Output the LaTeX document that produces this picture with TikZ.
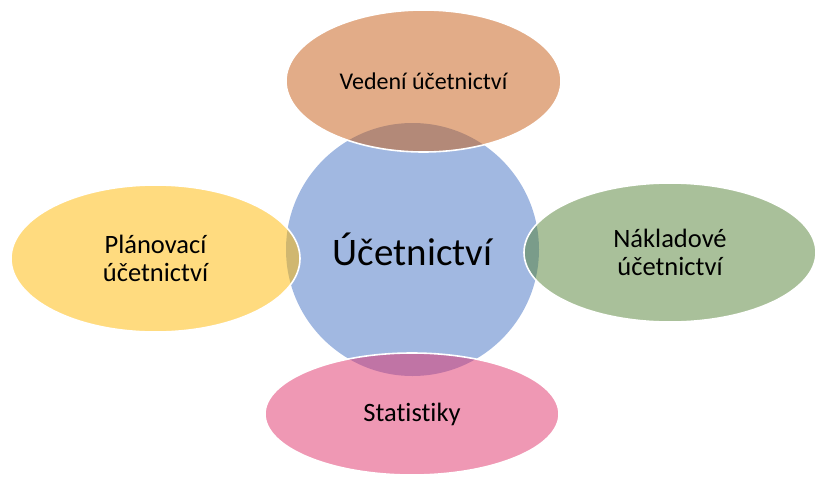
\documentclass[tikz,border=0pt]{standalone}
\usepackage{fontspec}
\setmainfont{Carlito}[Ligatures=NoCommon]
\usetikzlibrary{shapes.geometric}
\definecolor{cblue}{HTML}{4472C4}
\definecolor{corange}{HTML}{C55A11}
\definecolor{cyellow}{HTML}{FFB800}
\definecolor{cgreen}{HTML}{548235}
\definecolor{cpink}{HTML}{DF3169}
\begin{document}
\begin{tikzpicture}[x=1pt,y=-1pt,
  blob/.style={ellipse, inner sep=0pt, fill opacity=0.5, text opacity=1, align=center, text=black},
  outer/.style={blob, draw=white, line width=1.6pt, draw opacity=1, font=\fontsize{26.5}{28.5}\selectfont}]
\useasboundingbox (0,0) rectangle (815,477);
\node[blob, fill=cblue, minimum width=253pt, minimum height=253pt, font=\fontsize{39}{44}\selectfont] (c) at (412.5,249.5) {Účetnictví};
\node[outer, fill=corange, minimum width=275pt, minimum height=142pt, font=\fontsize{24}{28}\selectfont] (t) at (423.5,81) {Vedení účetnictví};
\node[outer, fill=cyellow, minimum width=289pt, minimum height=147pt] (l) at (155.5,258.5) {Plánovací\\účetnictví};
\node[outer, fill=cgreen, minimum width=292pt, minimum height=139pt] (r) at (670,252.5) {Nákladové\\účetnictví};
\node[outer, fill=cpink, minimum width=294pt, minimum height=122pt] (b) at (412,414) {Statistiky};
\end{tikzpicture}
\end{document}
